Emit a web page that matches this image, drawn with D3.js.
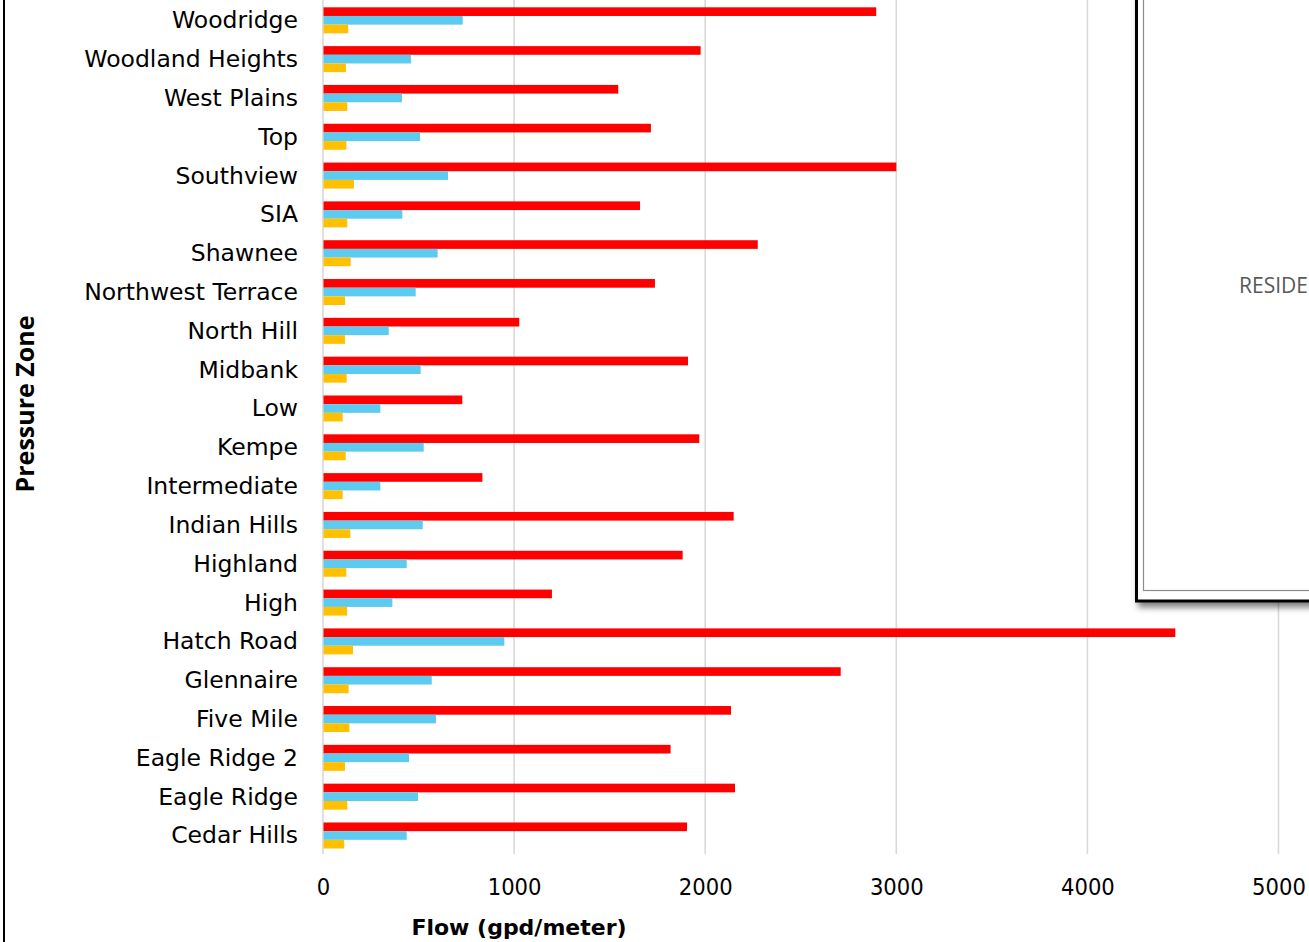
<!DOCTYPE html>
<html>
<head>
<meta charset="utf-8">
<script src="https://cdn.jsdelivr.net/npm/d3@7"></script>
<style>
  html, body { margin: 0; padding: 0; background: #fff; overflow: hidden; }
  svg { display: block; }
</style>
</head>
<body>
<svg id="chart" width="1309" height="942"></svg>
<script>
// ---- data ----
const zones = ["Woodridge", "Woodland Heights", "West Plains", "Top", "Southview", "SIA",
  "Shawnee", "Northwest Terrace", "North Hill", "Midbank", "Low", "Kempe", "Intermediate",
  "Indian Hills", "Highland", "High", "Hatch Road", "Glennaire", "Five Mile",
  "Eagle Ridge 2", "Eagle Ridge", "Cedar Hills"];
const seriesNames = ["peak", "average", "minimum"];
const peakFlow = [2895, 1976, 1545, 1716, 3000, 1659, 2275, 1737, 1027, 1910, 729, 1969, 834,
  2149, 1882, 1198, 4460, 2709, 2135, 1819, 2156, 1905];
const avgFlow = [731, 460, 413, 508, 654, 415, 600, 485, 344, 511, 300, 527, 300,
  522, 438, 363, 949, 569, 591, 450, 497, 438];
const minFlow = [132, 120, 127, 122, 162, 127, 145, 115, 115, 124, 103, 119, 103,
  143, 122, 126, 157, 134, 138, 115, 127, 111];
const xTicks = [0, 1000, 2000, 3000, 4000, 5000];
const xTitle = "Flow (gpd/meter)";
const yTitle = "Pressure Zone";
const legendText = "RESIDE";

const seriesValues = [peakFlow, avgFlow, minFlow];
const colors = ["#FF0000", "#5CCBEF", "#FFC000"];

// ---- layout ----
const svg = d3.select("#chart");
const plotTop = 0.9, plotBottom = 854.9, plotLeft = 323, plotRight = 1278.5;

const x = d3.scaleLinear().domain([0, 5000]).range([plotLeft, plotRight]);
const y0 = d3.scaleBand().domain(zones).range([plotTop, plotBottom])
  .paddingInner(0.33).paddingOuter(0.165);
const y1 = d3.scaleBand().domain(seriesNames).range([0, y0.bandwidth()]);

// left frame line
svg.append("line").attr("x1", 4).attr("x2", 4).attr("y1", 0).attr("y2", 942)
  .attr("stroke", "#000").attr("stroke-width", 2);

// gridlines
svg.append("g").selectAll("line").data(xTicks).join("line")
  .attr("x1", d => x(d)).attr("x2", d => x(d))
  .attr("y1", 0).attr("y2", 854)
  .attr("stroke", "#D9D9D9").attr("stroke-width", 1.6);

// bars
const groups = svg.append("g").selectAll("g").data(zones).join("g")
  .attr("transform", d => `translate(0,${y0(d)})`);
groups.selectAll("rect")
  .data((z, i) => seriesNames.map((s, k) => ({ s, k, v: seriesValues[k][i] })))
  .join("rect")
  .attr("x", x(0) + 0.5)
  .attr("y", d => y1(d.s))
  .attr("width", d => x(d.v) - x(0) - 0.5)
  .attr("height", y1.bandwidth())
  .attr("fill", d => colors[d.k]);

// category labels
svg.append("g").selectAll("text").data(zones).join("text")
  .attr("x", 298)
  .attr("y", d => y0(d) + y0.bandwidth() / 2)
  .attr("text-anchor", "end")
  .attr("dominant-baseline", "central")
  .attr("font-family", "'DejaVu Sans', sans-serif")
  .attr("font-size", 23.5)
  .attr("fill", "#000")
  .text(d => d);

// x axis tick labels
const xAxis = d3.axisBottom(x).tickValues(xTicks).tickSize(0).tickPadding(0)
  .tickFormat(d3.format("d"));
const gx = svg.append("g").attr("transform", "translate(0,878)").call(xAxis);
gx.select(".domain").remove();
gx.selectAll("text")
  .attr("font-family", "'DejaVu Sans Condensed', 'DejaVu Sans', sans-serif")
  .attr("font-size", 23.5).attr("fill", "#000");

// axis titles
svg.append("text").attr("x", 519).attr("y", 927)
  .attr("text-anchor", "middle").attr("dominant-baseline", "central")
  .attr("font-family", "'DejaVu Sans', sans-serif")
  .attr("font-weight", "bold").attr("font-size", 22).attr("fill", "#000")
  .text(xTitle);
svg.append("text")
  .attr("transform", "translate(24,404) rotate(-90)")
  .attr("text-anchor", "middle").attr("dominant-baseline", "central")
  .attr("font-family", "'Open Sans', sans-serif")
  .attr("font-weight", "bold").attr("font-size", 25).attr("fill", "#000")
  .text(yTitle);

// legend box (partially off-canvas) with shadow
const defs = svg.append("defs");
const f = defs.append("filter").attr("id", "shadow").attr("x", "-10%").attr("y", "-10%")
  .attr("width", "130%").attr("height", "130%");
f.append("feGaussianBlur").attr("in", "SourceAlpha").attr("stdDeviation", 3).attr("result", "b");
f.append("feOffset").attr("in", "b").attr("dx", 3).attr("dy", 5).attr("result", "o");
f.append("feComponentTransfer").attr("in", "o").attr("result", "o2")
  .append("feFuncA").attr("type", "linear").attr("slope", 0.5);
const m = f.append("feMerge");
m.append("feMergeNode").attr("in", "o2");
m.append("feMergeNode").attr("in", "SourceGraphic");

svg.append("rect").attr("x", 1136.5).attr("y", -20).attr("width", 240).attr("height", 621)
  .attr("fill", "#fff").attr("stroke", "#000").attr("stroke-width", 3)
  .attr("filter", "url(#shadow)");
svg.append("rect").attr("x", 1143.5).attr("y", -20).attr("width", 230).attr("height", 610.5)
  .attr("fill", "none").attr("stroke", "#8c8c8c").attr("stroke-width", 1.2);
svg.append("text").attr("x", 1239).attr("y", 285)
  .attr("dominant-baseline", "central")
  .attr("font-family", "'Open Sans', sans-serif")
  .attr("font-size", 21).attr("fill", "#595959")
  .text(legendText);
</script>
</body>
</html>
